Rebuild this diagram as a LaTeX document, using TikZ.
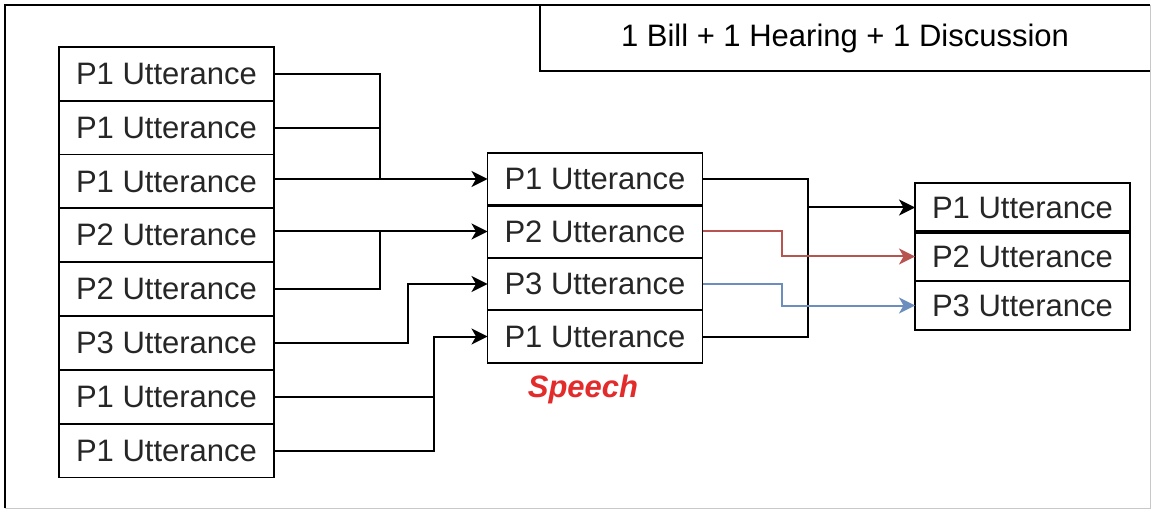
\documentclass[tikz,border=0pt]{standalone}
\usepackage{fontspec}
\setmainfont{Liberation Sans}
\usepackage{tikz}
\usetikzlibrary{positioning, arrows.meta, calc}
\definecolor{edgered}{HTML}{b85450}
\definecolor{edgeblue}{HTML}{6c8ebf}
\definecolor{speechred}{HTML}{E32B2B}
\definecolor{framegray}{HTML}{c8c8c8}

\begin{document}
\begin{tikzpicture}[x=1pt, y=-1pt,
    >={Stealth[length=16pt, width=16pt, inset=4.5pt]}, % gefuellte Pfeilspitzen wie im Bild
    font=\fontsize{31}{36}\selectfont,
    utter/.style={draw, rectangle, line width=1.8pt, outer sep=0pt, inner sep=0pt, text=black!85, minimum width=215pt},
    uttleft/.style={utter, minimum height=53.8pt},
    uttmid/.style={utter, minimum height=52.5pt},
    uttright/.style={utter, minimum height=49pt},
    link/.style={line width=2pt},
    arrowlink/.style={link, ->},
    sep/.style={line width=3.2pt}
]
\useasboundingbox (0,0) rectangle (1155,510);

% 1. Rahmen und Titelbox
\draw[framegray, line width=1pt] (1150,5) -- (1150,508) -- (5,508);
\draw[line width=2.5pt] (5,508) -- (5,5) -- (1150,5);
\node[minimum width=610pt, minimum height=66pt, inner sep=0pt] (title) at (845,38) {1 Bill + 1 Hearing + 1 Discussion};
\draw[line width=1.8pt] (title.north west) |- (title.south east);

% 2. Linke Spalte
\node[uttleft] (l1) at (166.5,73.9) {P1 Utterance};
\node[uttleft, below=0pt of l1] (l2) {P1 Utterance};
\node[uttleft, below=0pt of l2] (l3) {P1 Utterance};
\node[uttleft, below=0pt of l3] (l4) {P2 Utterance};
\node[uttleft, below=0pt of l4] (l5) {P2 Utterance};
\node[uttleft, below=0pt of l5] (l6) {P3 Utterance};
\node[uttleft, below=0pt of l6] (l7) {P1 Utterance};
\node[uttleft, below=0pt of l7] (l8) {P1 Utterance};

% 3. Mittlere Spalte (Speech)
\node[uttmid] (m1) at (595,179) {P1 Utterance};
\node[uttmid, below=0pt of m1] (m2) {P2 Utterance};
\node[uttmid, below=0pt of m2] (m3) {P3 Utterance};
\node[uttmid, below=0pt of m3] (m4) {P1 Utterance};
\draw[sep] (m1.south west) -- (m1.south east);
\node[font=\fontsize{31}{36}\selectfont\bfseries\itshape, text=speechred, below=9pt of m4, xshift=-12pt] (speech) {Speech};

% 4. Rechte Spalte
\node[uttright] (r1) at (1022.5,207.5) {P1 Utterance};
\node[uttright, below=0pt of r1] (r2) {P2 Utterance};
\node[uttright, below=0pt of r2] (r3) {P3 Utterance};
\draw[sep] (r1.south west) -- (r1.south east);

% 5. Knickpunkte der Verbindungen
\coordinate (k1) at (380,0);
\coordinate (k2) at (408,0);
\coordinate (k3) at (434,0);
\coordinate (k4) at (808,0);
\coordinate (k5) at (782,0);

% 6. Links -> Mitte
\draw[link] (l1.east) -| (k1 |- m1.west);
\draw[link] (l2.east) -| (k1 |- m1.west);
\draw[arrowlink] (l3.east |- m1.west) -- (m1.west);
\draw[link] (l5.east) -| (k1 |- m2.west);
\draw[arrowlink] (l4.east |- m2.west) -- (m2.west);
\draw[arrowlink] (l6.east) -| (k2 |- m3.west) -- (m3.west);
\draw[link] (l8.east) -| (k3 |- m4.west);
\draw[arrowlink] (l7.east) -| (k3 |- m4.west) -- (m4.west);

% 7. Mitte -> Rechts
\draw[link] (m1.east) -| (k4 |- r1.west);
\draw[link] (m4.east) -| (k4 |- r1.west);
\draw[arrowlink] (k4 |- r1.west) -- (r1.west);
\draw[arrowlink, edgered] (m2.east) -| (k5 |- r2.west) -- (r2.west);
\draw[arrowlink, edgeblue] (m3.east) -| (k5 |- r3.west) -- (r3.west);

\end{tikzpicture}
\end{document}
